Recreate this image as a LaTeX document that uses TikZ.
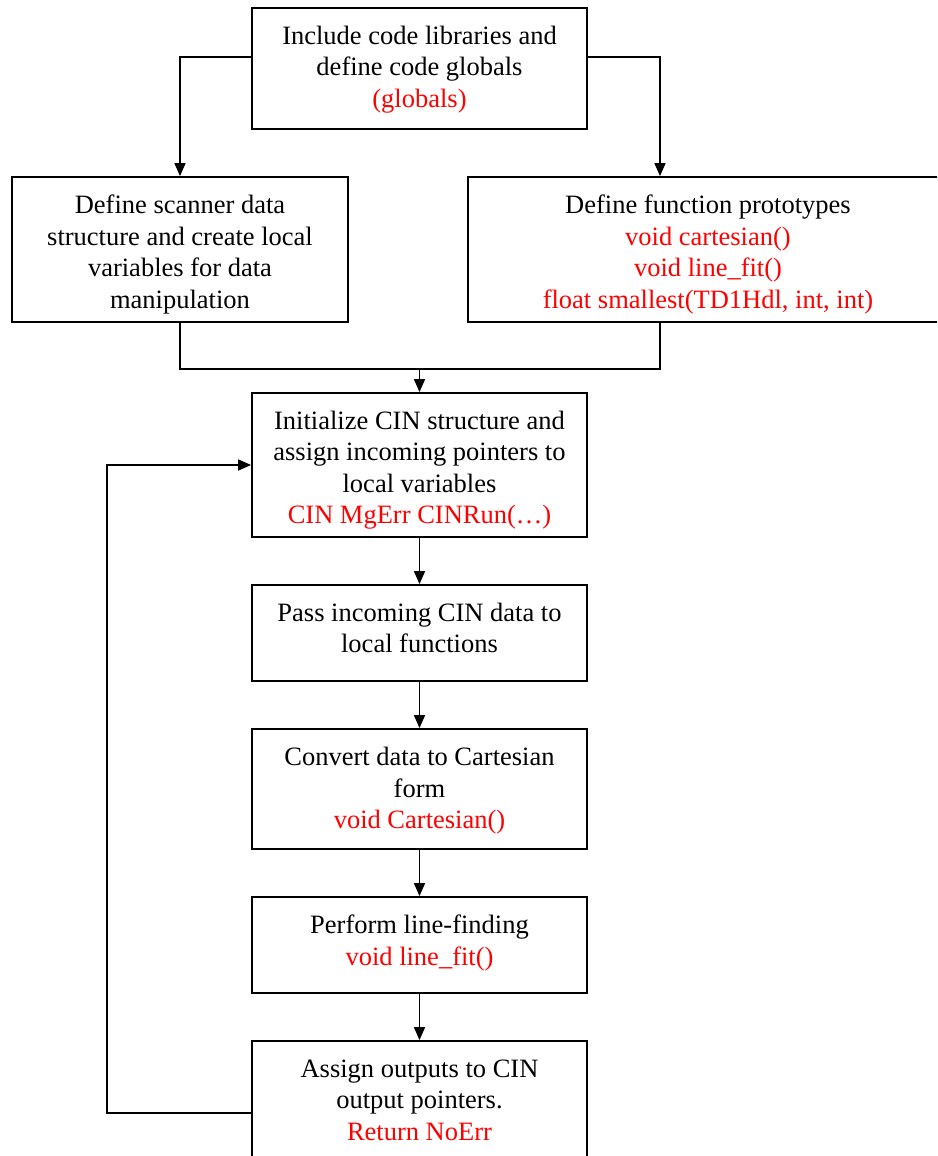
\documentclass[tikz,border=0pt]{standalone}
\usepackage{fontspec}
\setmainfont{Liberation Serif}
\usetikzlibrary{arrows.meta}
\definecolor{codered}{RGB}{255,0,0}
\begin{document}
\begin{tikzpicture}[x=1pt,y=-1pt,
  box/.style={draw=black, line width=1.8pt, rectangle, inner sep=0pt},
  txt/.style={inner sep=0pt, align=center, font=\fontsize{26.5}{31.5}\selectfont},
  arr/.style={line width=1.5pt, -{Triangle[length=13pt,width=11pt]}},
  ln/.style={line width=1.5pt}]
\useasboundingbox (0,0) rectangle (937,1156);
\clip (0,0) rectangle (937,1156);
\node[box, minimum width=335pt, minimum height=121pt] (top) at (419.5,68.5) {};
\node[txt] (topt) at (419.5,69.5)
  {Include code libraries and\\define code globals\\\textcolor{codered}{(globals)}};
\node[box, minimum width=336pt, minimum height=145pt] (left) at (180,249.5) {};
\node[txt] (leftt) at (180,254.5)
  {Define scanner data\\structure and create local\\variables for data\\manipulation};
\node[box, minimum width=480pt, minimum height=145pt] (right) at (708,249.5) {};
\node[txt] (rightt) at (708,254.5)
  {Define function prototypes\\\textcolor{codered}{void cartesian()}\\\textcolor{codered}{void line\_fit()}\\\textcolor{codered}{float smallest(TD1Hdl, int, int)}};
\node[box, minimum width=335pt, minimum height=144pt] (cin) at (419.5,465) {};
\node[txt] (cint) at (419.5,470)
  {Initialize CIN structure and\\assign incoming pointers to\\local variables\\\textcolor{codered}{CIN MgErr CINRun(…)}};
\node[box, minimum width=335pt, minimum height=96pt] (pass) at (419.5,633) {};
\node[txt] (passt) at (419.5,628)
  {Pass incoming CIN data to\\local functions};
\node[box, minimum width=335pt, minimum height=120pt] (conv) at (419.5,789) {};
\node[txt] (convt) at (419.5,791)
  {Convert data to Cartesian\\form\\\textcolor{codered}{void Cartesian()}};
\node[box, minimum width=335pt, minimum height=96pt] (line) at (419.5,945) {};
\node[txt] (linet) at (419.5,943)
  {Perform line-finding\\\textcolor{codered}{void line\_fit()}};
\node[box, minimum width=335pt, minimum height=118pt] (assign) at (419.5,1100) {};
\node[txt] (assignt) at (419.5,1100)
  {Assign outputs to CIN\\output pointers.\\\textcolor{codered}{Return NoErr}};
\coordinate (merge) at (419.5,369);
\draw[arr] ([yshift=11.5pt]top.west) -| (left.north);
\draw[arr] ([yshift=11.5pt]top.east) -| ([xshift=-48pt]right.north);
\draw[ln] (left.south) |- (merge) -| ([xshift=-48pt]right.south);
\draw[arr] (merge) -- (cin.north);
\draw[arr] (cin.south) -- (pass.north);
\draw[arr] (pass.south) -- (conv.north);
\draw[arr] (conv.south) -- (line.north);
\draw[arr] (line.south) -- (assign.north);
\draw[arr] ([yshift=-13pt]assign.west) -- ++(-144,0) |- (cin.west);
\end{tikzpicture}
\end{document}
